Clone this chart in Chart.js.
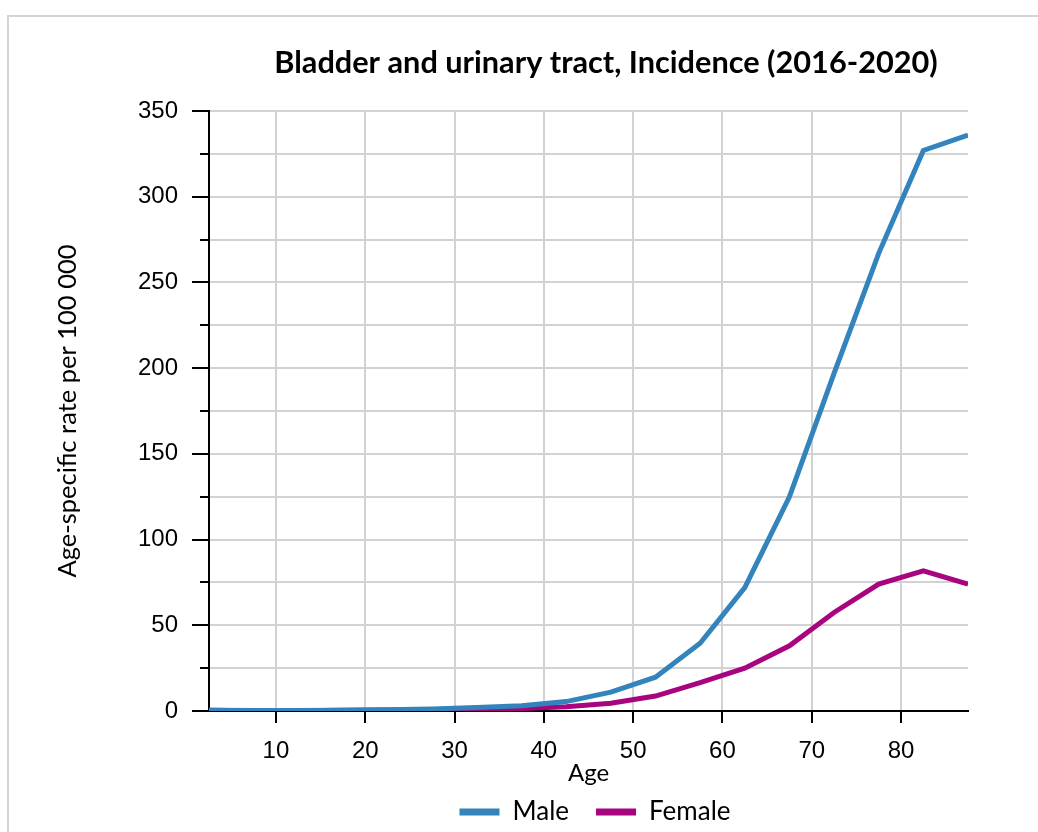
<!DOCTYPE html>
<html>
<head>
<meta charset="utf-8">
<title>Bladder and urinary tract, Incidence (2016-2020)</title>
<script src="https://cdn.jsdelivr.net/npm/chart.js@4/dist/chart.umd.min.js"></script>
<style>
  html, body { margin: 0; padding: 0; background: #fff; }
  #wrap { width: 1038px; height: 832px; position: relative; }
</style>
</head>
<body>
<div id="wrap"><canvas id="incidenceCanvas"></canvas></div>
<script>
// age group midpoints (0-4, 5-9, ... 85+)
const ageMid = [2.5, 7.5, 12.5, 17.5, 22.5, 27.5, 32.5, 37.5, 42.5, 47.5, 52.5, 57.5, 62.5, 67.5, 72.5, 77.5, 82.5, 87.5];
const maleRate = [0.5, 0.3, 0.3, 0.5, 0.8, 1.2, 2, 3, 5.5, 11, 19.7, 39.5, 72, 125, 197, 267, 327, 336];
const femaleRate = [0.4, 0.2, 0.2, 0.4, 0.6, 0.8, 1, 1.5, 2.5, 4.5, 8.7, 16.5, 25, 38, 57.5, 74, 81.7, 74];
const xTicks = [10, 20, 30, 40, 50, 60, 70, 80];

const MALE_COLOR = '#3383bc';
const FEMALE_COLOR = '#a8047f';
const GRID_COLOR = '#d2d2d2';
const TEXT_FONT = 'Lato, "Noto Sans", sans-serif';
const TICK_FONT = '"Liberation Sans", Arial, sans-serif';

// frame round the whole figure
const framePlugin = {
  id: 'frame',
  beforeDraw(chart) {
    const { ctx } = chart;
    ctx.save();
    ctx.strokeStyle = '#d4d4d4';
    ctx.lineWidth = 2;
    ctx.beginPath();
    ctx.moveTo(8, chart.height);
    ctx.lineTo(8, 16);
    ctx.lineTo(chart.width, 16);
    ctx.stroke();
    ctx.restore();
  },
};

// tick marks: long ones on labelled values, short ones between
const tickMarkPlugin = {
  id: 'tickMarks',
  afterDraw(chart) {
    const { ctx, chartArea, scales } = chart;
    ctx.save();
    ctx.strokeStyle = '#000';
    ctx.lineWidth = 2;
    ctx.beginPath();
    scales.y.ticks.forEach(({ value }) => {
      const y = Math.round(scales.y.getPixelForValue(value));
      const len = value % 50 === 0 ? 17 : 9;
      ctx.moveTo(chartArea.left - len, y);
      ctx.lineTo(chartArea.left, y);
    });
    scales.x.ticks.forEach(({ value }) => {
      const x = Math.round(scales.x.getPixelForValue(value));
      ctx.moveTo(x, chartArea.bottom);
      ctx.lineTo(x, chartArea.bottom + 12);
    });
    ctx.stroke();
    ctx.restore();
  },
};

// title and legend are centred a bit right of the canvas middle
const centrePlugin = {
  id: 'centre',
  afterLayout(chart) {
    const shift = (box, centre) => {
      if (!box) return;
      const d = centre - (box.left + box.right) / 2;
      box.left += d;
      box.right += d;
    };
    shift(chart.titleBlock, 606);
    shift(chart.legend, 595);
  },
};

const ctx = document.getElementById('incidenceCanvas').getContext('2d');

window.incidenceChart = new Chart(ctx, {
  type: 'line',
  data: {
    datasets: [
      {
        label: 'Male',
        data: ageMid.map((x, i) => ({ x, y: maleRate[i] })),
        borderColor: MALE_COLOR,
        backgroundColor: MALE_COLOR,
        borderWidth: 5,
        pointRadius: 0,
        tension: 0,
      },
      {
        label: 'Female',
        data: ageMid.map((x, i) => ({ x, y: femaleRate[i] })),
        borderColor: FEMALE_COLOR,
        backgroundColor: FEMALE_COLOR,
        borderWidth: 5,
        pointRadius: 0,
        tension: 0,
      },
    ],
  },
  options: {
    responsive: true,
    maintainAspectRatio: false,
    animation: false,
    layout: { padding: { left: 45, right: 70, top: 0, bottom: -3 } },
    plugins: {
      title: {
        display: true,
        text: 'Bladder and urinary tract, Incidence (2016-2020)',
        color: '#000',
        font: { family: TEXT_FONT, size: 30.7, weight: 'bold', lineHeight: 1.2 },
        padding: { top: 45, bottom: 29.2 },
      },
      legend: {
        display: true,
        position: 'bottom',
        labels: {
          color: '#000',
          font: { family: TEXT_FONT, size: 26 },
          boxWidth: 40,
          boxHeight: 7,
          padding: 27,
          generateLabels(chart) {
            return Chart.defaults.plugins.legend.labels
              .generateLabels(chart)
              .map(item => ({ ...item, lineWidth: 0 }));
          },
        },
      },
      tooltip: { enabled: false },
    },
    scales: {
      x: {
        type: 'linear',
        min: 2.5,
        max: 87.5,
        afterBuildTicks(scale) {
          scale.ticks = xTicks.map(value => ({ value }));
        },
        afterFit(scale) {
          scale.height = 61;
        },
        grid: { color: GRID_COLOR, lineWidth: 2, drawTicks: false },
        border: { color: '#000', width: 2 },
        ticks: {
          color: '#000',
          font: { family: TICK_FONT, size: 24 },
          padding: 26,
          maxRotation: 0,
        },
        title: {
          display: true,
          text: 'Age',
          color: '#000',
          font: { family: TEXT_FONT, size: 24, lineHeight: 1.2 },
          padding: { top: 0, bottom: -15.4 },
        },
      },
      y: {
        type: 'linear',
        min: 0,
        max: 350,
        afterFit(scale) {
          scale.width = 209 - 45;
        },
        grid: { color: GRID_COLOR, lineWidth: 2, drawTicks: false },
        border: { color: '#000', width: 2 },
        ticks: {
          stepSize: 25,
          color: '#000',
          font: { family: TICK_FONT, size: 24 },
          padding: 31,
          callback: value => (value % 50 === 0 ? value : ''),
        },
        title: {
          display: true,
          text: 'Age-specific rate per 100 000',
          color: '#000',
          font: { family: TEXT_FONT, size: 25.5, lineHeight: 1.2 },
          padding: { top: 7, bottom: 0 },
        },
      },
    },
  },
  plugins: [framePlugin, tickMarkPlugin, centrePlugin],
});
</script>
</body>
</html>
